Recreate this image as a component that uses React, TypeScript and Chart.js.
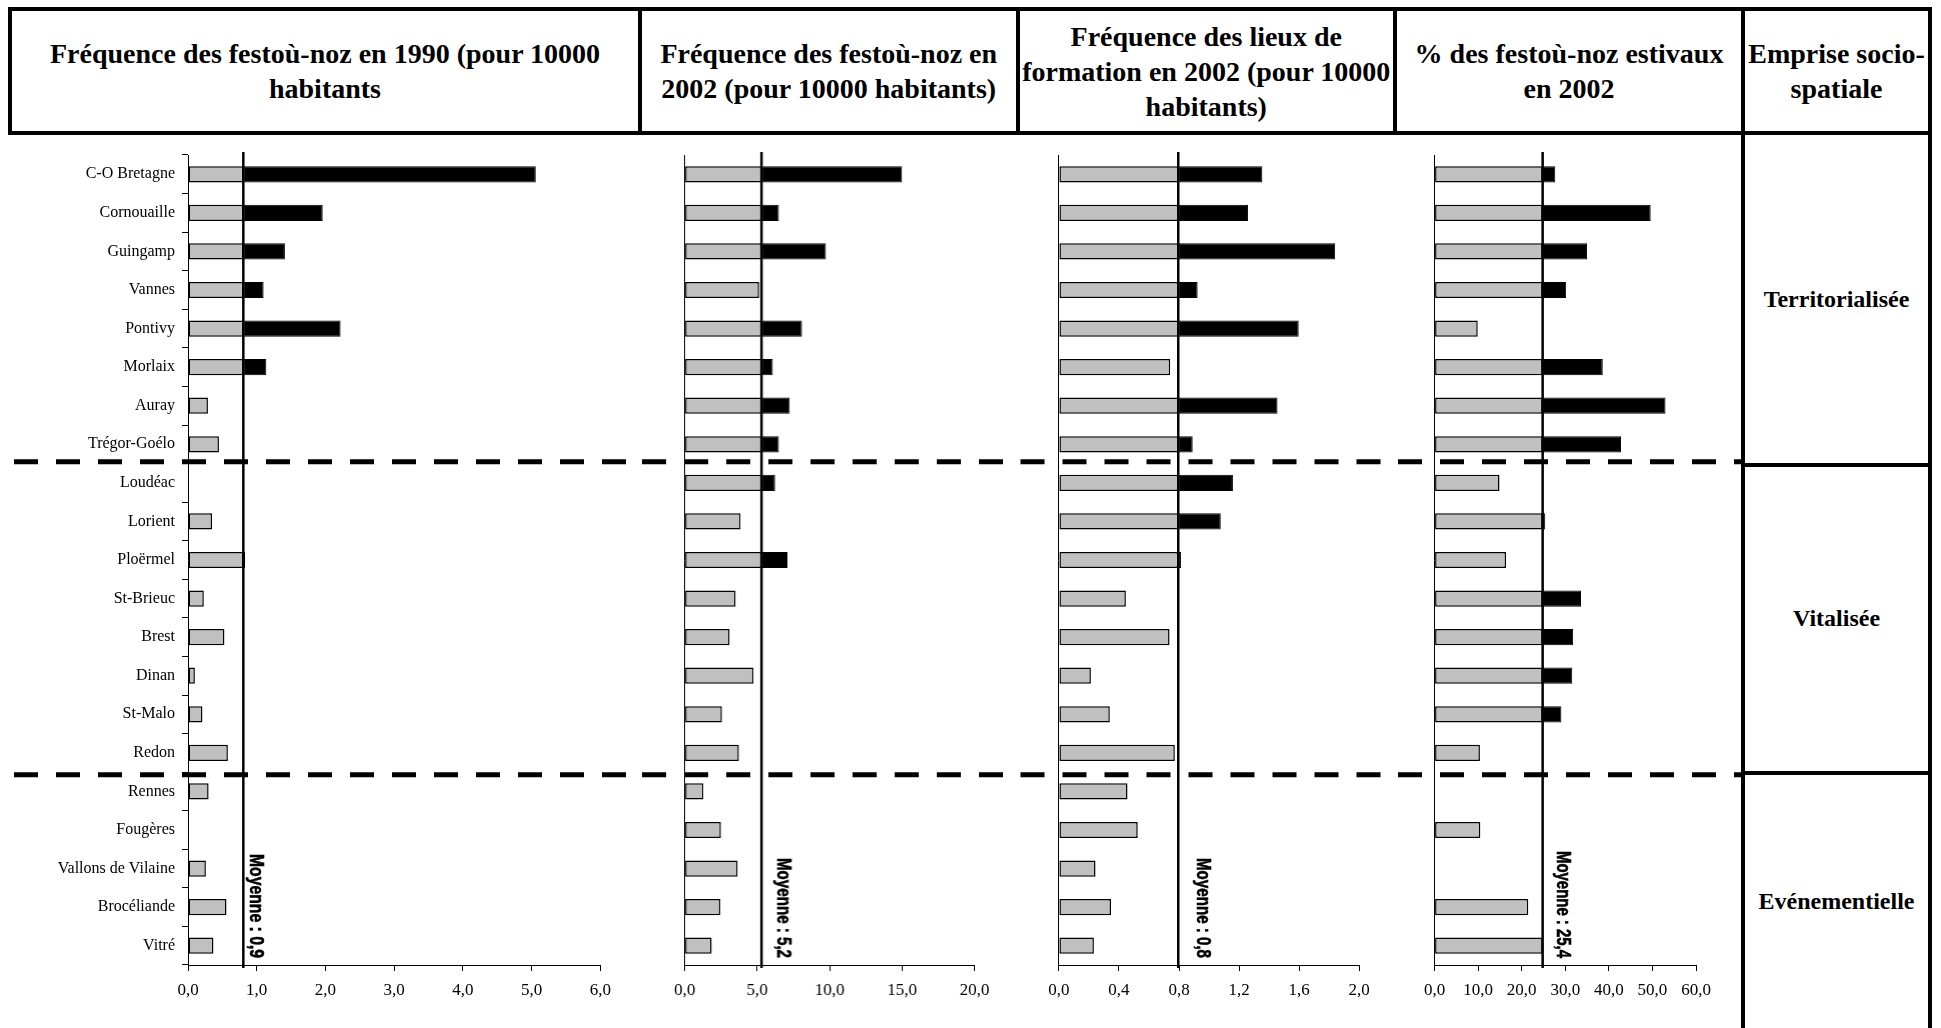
import React, { useEffect, useRef } from 'react';
import { Chart, registerables } from 'chart.js';

Chart.register(...registerables);

// ---------- DATA ----------
const categories = [
  'C-O Bretagne', 'Cornouaille', 'Guingamp', 'Vannes', 'Pontivy', 'Morlaix', 'Auray', 'Trégor-Goélo',
  'Loudéac', 'Lorient', 'Ploërmel', 'St-Brieuc', 'Brest', 'Dinan', 'St-Malo', 'Redon',
  'Rennes', 'Fougères', 'Vallons de Vilaine', 'Brocéliande', 'Vitré',
];

const groupLabels = ['Territorialisée', 'Vitalisée', 'Evénementielle'];
const groupSizes = [8, 8, 5];

const headerLines = [
  ['Fréquence des festoù-noz en 1990 (pour 10000', 'habitants'],
  ['Fréquence des festoù-noz en', '2002 (pour 10000 habitants)'],
  ['Fréquence des lieux de', 'formation en 2002 (pour 10000', 'habitants)'],
  ['% des festoù-noz estivaux', 'en 2002'],
  ['Emprise socio-', 'spatiale'],
];

const festouNoz1990 = [5.06, 1.96, 1.41, 1.1, 2.22, 1.14, 0.29, 0.45, 0, 0.35, 0.83, 0.23, 0.53, 0.1, 0.21, 0.58, 0.3, 0, 0.26, 0.56, 0.37];
const festouNoz2002 = [15.0, 6.5, 9.75, 5.14, 8.1, 6.08, 7.25, 6.5, 6.24, 3.85, 7.09, 3.51, 3.1, 4.75, 2.57, 3.74, 1.29, 2.5, 3.65, 2.46, 1.86];
const lieuxFormation2002 = [1.355, 1.26, 1.84, 0.924, 1.597, 0.741, 1.456, 0.891, 1.159, 1.078, 0.814, 0.446, 0.737, 0.213, 0.339, 0.772, 0.457, 0.525, 0.244, 0.347, 0.233];
const festouNozEstivaux2002 = [27.7, 49.6, 35.0, 30.2, 9.9, 38.6, 53.0, 42.8, 14.9, 25.4, 16.4, 33.6, 31.8, 31.6, 29.1, 10.4, 0, 10.5, 0, 21.5, 24.8];

const meanValues = [0.805, 5.3, 0.795, 24.8];
const meanLabels = ['Moyenne : 0,9', 'Moyenne : 5,2', 'Moyenne : 0,8', 'Moyenne : 25,4'];
const axisMax = [6, 20, 2, 60];
const axisStep = [1, 5, 0.4, 10];

// ---------- LAYOUT ----------
const CANVAS_TOP = 135;
const CANVAS_H = 1028 - CANVAS_TOP;
const PLOT_TOP = 155;
const PLOT_BOTTOM = 965;
const separatorShift = [-0.05, 0.07]; // small visual offset of dashed separators (in category units)

const panelLayout = [
  { left: 10, right: 640, plotLeft: 188, plotRight: 600.4, labelOffset: 12, labelLen: 104, showLabels: true },
  { left: 640, right: 1017.5, plotLeft: 684.6, plotRight: 974, labelOffset: 21, labelLen: 100, showLabels: false },
  { left: 1017.5, right: 1395, plotLeft: 1058.4, plotRight: 1359.2, labelOffset: 24, labelLen: 100, showLabels: false },
  { left: 1395, right: 1743, plotLeft: 1434.6, plotRight: 1696, labelOffset: 20, labelLen: 107, showLabels: false },
];

const panelValues = [festouNoz1990, festouNoz2002, lieuxFormation2002, festouNozEstivaux2002];

const fmt = (v: number) => Number(v).toFixed(1).replace('.', ',');

function Panel({ idx }: { idx: number }) {
  const ref = useRef<HTMLCanvasElement | null>(null);
  const lay = panelLayout[idx];
  const w = lay.right - lay.left;

  useEffect(() => {
    const canvas = ref.current;
    if (!canvas) return;
    const values = panelValues[idx];
    const mean = meanValues[idx];
    const gray = values.map((v) => (v > 0 ? Math.min(v, mean) : null));
    const black = values.map((v) => (v > mean ? v - mean : null));

    const overlay = {
      id: 'overlay' + idx,
      afterDatasetsDraw(chart: any) {
        const { ctx, chartArea } = chart;
        const xs = chart.scales.x;
        const x = xs.getPixelForValue(mean);
        ctx.save();
        ctx.strokeStyle = '#000';
        ctx.lineWidth = 2.5;
        ctx.beginPath();
        ctx.moveTo(x, chartArea.top - 3);
        ctx.lineTo(x, chartArea.bottom + 3);
        ctx.stroke();
        ctx.restore();
      },
      afterDraw(chart: any) {
        const { ctx, chartArea } = chart;
        const ys = chart.scales.y;
        const xs = chart.scales.x;
        // dashed group separators
        ctx.save();
        ctx.strokeStyle = '#000';
        ctx.lineWidth = 5;
        ctx.setLineDash([24, 18]);
        ctx.lineDashOffset = (((lay.left - 12) % 42) + 42) % 42;
        let cum = 0;
        for (let g = 0; g < groupSizes.length - 1; g++) {
          cum += groupSizes[g];
          const y = ys.getPixelForValue(cum - 0.5 + separatorShift[g]);
          ctx.beginPath();
          ctx.moveTo(lay.left < 12 ? 12 - lay.left : 0, y);
          ctx.lineTo(w, y);
          ctx.stroke();
        }
        ctx.restore();
        // mean label
        ctx.save();
        ctx.fillStyle = '#000';
        ctx.font = 'bold 20px "Liberation Sans", Arial, sans-serif';
        const label = meanLabels[idx];
        const tw = ctx.measureText(label).width;
        const sx = lay.labelLen / tw;
        const x = xs.getPixelForValue(mean) + lay.labelOffset;
        const yEnd = chartArea.bottom - 7;
        ctx.translate(x, yEnd - lay.labelLen);
        ctx.rotate(Math.PI / 2);
        ctx.scale(sx, 1);
        ctx.textAlign = 'left';
        ctx.textBaseline = 'middle';
        ctx.lineWidth = 0.6;
        ctx.strokeStyle = '#000';
        ctx.fillText(label, 0, 0);
        ctx.strokeText(label, 0, 0);
        ctx.restore();
      },
    };

    const chart = new Chart(canvas, {
      type: 'bar',
      data: {
        labels: categories,
        datasets: [
          {
            data: gray as any,
            backgroundColor: '#c0c0c0',
            borderColor: '#000',
            borderWidth: 1.5,
            borderSkipped: false,
            barPercentage: 0.42,
            categoryPercentage: 1,
          },
          {
            data: black as any,
            backgroundColor: '#000',
            borderColor: '#000',
            borderWidth: 1,
            borderSkipped: false,
            barPercentage: 0.42,
            categoryPercentage: 1,
          },
        ],
      },
      options: {
        indexAxis: 'y',
        animation: false,
        responsive: false,
        maintainAspectRatio: false,
        devicePixelRatio: 1,
        layout: {
          padding: { left: 0, right: lay.right - lay.plotRight, top: PLOT_TOP - CANVAS_TOP, bottom: 0 },
        },
        plugins: { legend: { display: false }, tooltip: { enabled: false }, title: { display: false } },
        scales: {
          x: {
            stacked: true,
            min: 0,
            max: axisMax[idx],
            ticks: {
              stepSize: axisStep[idx],
              callback: (v: any) => fmt(v),
              font: { family: '"Liberation Serif", "Times New Roman", serif', size: 17 },
              color: '#000',
              padding: 9,
              maxRotation: 0,
              autoSkip: false,
            },
            grid: { drawOnChartArea: false, tickLength: 6, color: '#000' },
            border: { display: true, color: '#000', width: 1 },
            afterFit: (s: any) => {
              s.height = CANVAS_TOP + CANVAS_H - PLOT_BOTTOM;
            },
          },
          y: {
            stacked: true,
            offset: true,
            grid: {
              display: true,
              drawOnChartArea: false,
              drawTicks: lay.showLabels,
              offset: true,
              tickLength: 6,
              color: lay.showLabels ? '#000' : 'rgba(0,0,0,0)',
            },
            border: { display: true, color: '#000', width: 1 },
            ticks: {
              display: lay.showLabels,
              font: { family: '"Liberation Serif", "Times New Roman", serif', size: 16 },
              color: '#000',
              padding: 7,
              autoSkip: false,
            },
            afterFit: (s: any) => {
              s.width = lay.plotLeft - lay.left;
            },
          },
        },
      } as any,
      plugins: [overlay],
    });
    return () => chart.destroy();
  }, [idx]);

  return (
    <canvas
      ref={ref}
      width={w}
      height={CANVAS_H}
      style={{ position: 'absolute', left: lay.left, top: CANVAS_TOP, width: w, height: CANVAS_H }}
    />
  );
}

const line = (left: number, top: number, width: number, height: number, key: string) => (
  <div key={key} style={{ position: 'absolute', left, top, width, height, background: '#000' }} />
);

const headerCells = [
  [12, 638],
  [642, 1015.5],
  [1019.5, 1393],
  [1397, 1741],
  [1745, 1928],
];

const groupCells = [
  [135, 463],
  [467, 770.5],
  [774.5, 1028],
];

export default function App() {
  return (
    <div
      style={{
        position: 'fixed',
        left: 0,
        top: 0,
        width: 1941,
        height: 1028,
        background: '#fff',
        overflow: 'hidden',
      }}
    >
      {panelLayout.map((_, i) => (
        <Panel key={i} idx={i} />
      ))}
      {headerLines.map((lines, i) => (
        <div
          key={'h' + i}
          style={{
            position: 'absolute',
            left: headerCells[i][0],
            top: 11,
            width: headerCells[i][1] - headerCells[i][0],
            height: 120,
            display: 'flex',
            flexDirection: 'column',
            justifyContent: 'center',
            alignItems: 'center',
            fontFamily: '"Liberation Serif", "Times New Roman", serif',
            fontWeight: 'bold',
            fontSize: 28,
            lineHeight: '35px',
            color: '#000',
            whiteSpace: 'nowrap',
          }}
        >
          {lines.map((l, j) => (
            <div key={j}>{l}</div>
          ))}
        </div>
      ))}
      {groupLabels.map((g, i) => (
        <div
          key={'g' + i}
          style={{
            position: 'absolute',
            left: 1745,
            top: groupCells[i][0],
            width: 183,
            height: groupCells[i][1] - groupCells[i][0],
            display: 'flex',
            justifyContent: 'center',
            alignItems: 'center',
            fontFamily: '"Liberation Serif", "Times New Roman", serif',
            fontWeight: 'bold',
            fontSize: 24,
            color: '#000',
            whiteSpace: 'nowrap',
          }}
        >
          {g}
        </div>
      ))}
      {line(8, 7, 1924, 4, 'top')}
      {line(8, 7, 4, 128, 'left')}
      {line(8, 131, 1924, 4, 'hb')}
      {line(638, 7, 4, 128, 'd1')}
      {line(1015.5, 7, 4, 128, 'd2')}
      {line(1393, 7, 4, 128, 'd3')}
      {line(1741, 7, 4, 1021, 'c1')}
      {line(1928, 7, 4, 1021, 'c2')}
      {line(1741, 463, 191, 4, 'r1')}
      {line(1741, 770.5, 191, 4, 'r2')}
    </div>
  );
}
